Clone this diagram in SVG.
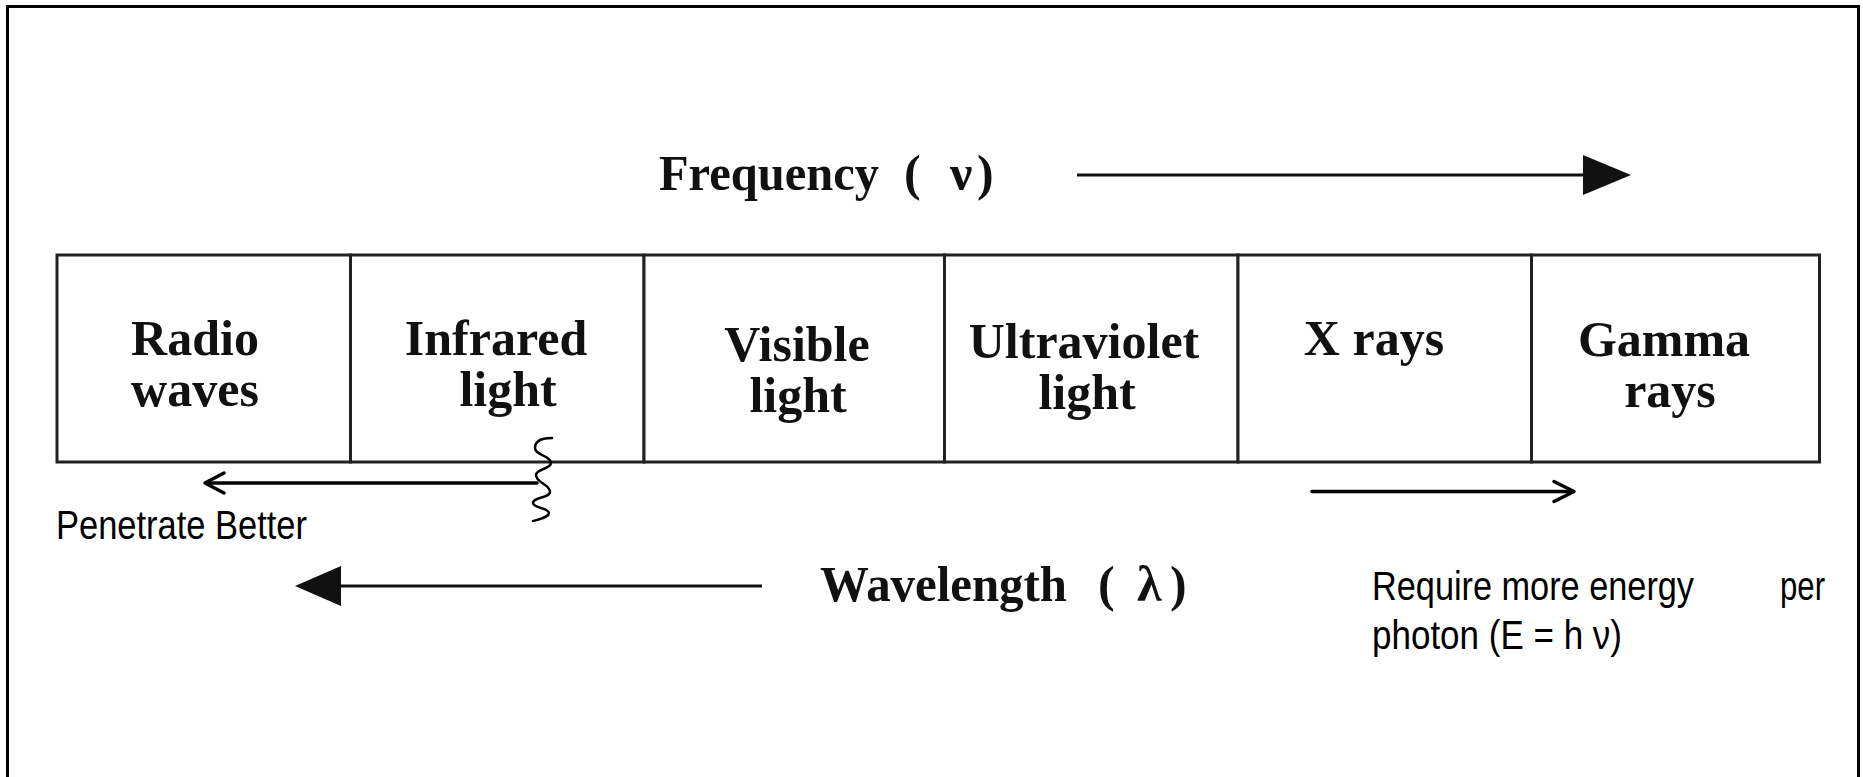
<svg xmlns="http://www.w3.org/2000/svg" width="1863" height="777" viewBox="0 0 1863 777">
<style>
.lbl{font-family:"Liberation Serif","Times New Roman",serif;font-weight:bold;font-size:50px;fill:#111;text-anchor:middle}
.ser{font-family:"Liberation Serif","Times New Roman",serif;font-weight:bold;font-size:50px;fill:#111}
.sans{font-family:"Liberation Sans",Arial,sans-serif;font-size:40px;fill:#000}
.cell{fill:#fff;stroke:#222;stroke-width:3}
.ln{stroke:#111;stroke-width:3;fill:none}
.thin{stroke:#000;stroke-width:3.5;fill:none;stroke-linecap:round;stroke-linejoin:round}
</style>
<rect x="0" y="0" width="1863" height="777" fill="#fff"/>
<path d="M7.5,777 V6.5 H1858.5 V777" fill="none" stroke="#000" stroke-width="3"/>

<g id="title-frequency">
<text class="ser" x="659" y="190" textLength="220" lengthAdjust="spacingAndGlyphs">Frequency</text>
<text class="ser" x="904" y="190">(</text>
<text class="ser" x="950" y="190">ν</text>
<text class="ser" x="977" y="190">)</text>
</g>

<g id="node-radio">
<rect class="cell" x="57" y="255" width="293.5" height="207"/>
<text class="lbl" x="195" y="355">Radio</text>
<text class="lbl" x="195" y="406">waves</text>
</g>
<g id="node-infrared">
<rect class="cell" x="350.5" y="255" width="293.5" height="207"/>
<text class="lbl" x="496" y="355">Infrared</text>
<text class="lbl" x="508" y="406">light</text>
</g>
<g id="node-visible">
<rect class="cell" x="644" y="255" width="300.5" height="207"/>
<text class="lbl" x="797" y="361">Visible</text>
<text class="lbl" x="798" y="412">light</text>
</g>
<g id="node-ultraviolet">
<rect class="cell" x="944.5" y="255" width="293.5" height="207"/>
<text class="lbl" x="1084" y="358">Ultraviolet</text>
<text class="lbl" x="1087" y="409">light</text>
</g>
<g id="node-xrays">
<rect class="cell" x="1238" y="255" width="293.5" height="207"/>
<text class="lbl" x="1374" y="355">X rays</text>
</g>
<g id="node-gamma">
<rect class="cell" x="1531.5" y="255" width="288" height="207"/>
<text class="lbl" x="1664" y="356">Gamma</text>
<text class="lbl" x="1670" y="407">rays</text>
</g>

<g id="connectors">
<line class="ln" x1="1077" y1="175" x2="1586" y2="175"/>
<polygon points="1583,155 1631,175 1583,195" fill="#111"/>
<line class="ln" x1="338" y1="586" x2="762" y2="586"/>
<polygon points="341,566 295,586 341,606" fill="#111"/>
<line class="thin" x1="206" y1="483" x2="537" y2="483"/>
<polyline class="thin" points="224,473 205,483 224,493"/>
<path d="M552,438 C540,438 535,442 535,448 C535,455 551,456 551,463 C551,469 536,469 536,475 C536,483 550,484 550,492 C550,498 533,497 533,503 C533,508 549,508 549,513 C549,517 540,519 533,521" fill="none" stroke="#000" stroke-width="2.5" stroke-linecap="round"/>
<line class="thin" x1="1312" y1="491.5" x2="1573" y2="491.5"/>
<polyline class="thin" points="1554,481.5 1574,491.5 1554,501.5"/>
</g>

<g id="title-wavelength">
<text class="ser" x="820" y="601" textLength="247" lengthAdjust="spacingAndGlyphs">Wavelength</text>
<text class="ser" x="1098" y="601">(</text>
<text class="ser" x="1137" y="601">λ</text>
<text class="ser" x="1170" y="601">)</text>
</g>

<g id="note-penetrate">
<text class="sans" x="56" y="539" textLength="251" lengthAdjust="spacingAndGlyphs">Penetrate Better</text>
</g>
<g id="note-energy">
<text class="sans" x="1372" y="600" textLength="322" lengthAdjust="spacingAndGlyphs">Require more energy</text>
<text class="sans" x="1825" y="600" text-anchor="end" textLength="45" lengthAdjust="spacingAndGlyphs">per</text>
<text class="sans" x="1372" y="649" textLength="250" lengthAdjust="spacingAndGlyphs">photon (E = h ν)</text>
</g>
</svg>
